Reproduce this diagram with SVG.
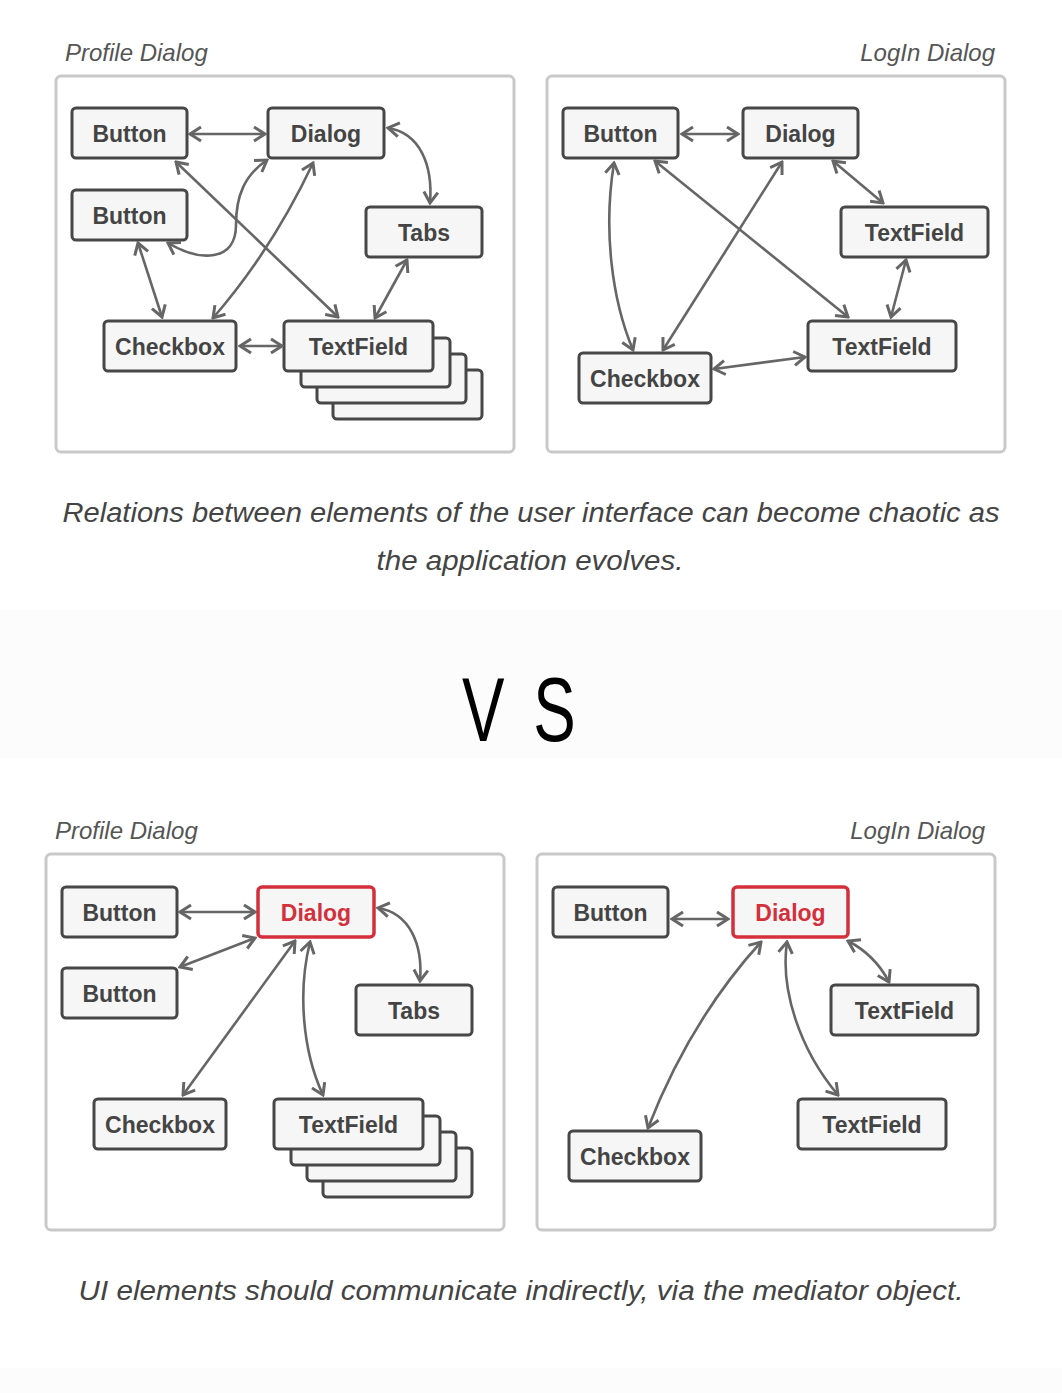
<svg xmlns="http://www.w3.org/2000/svg" width="1062" height="1393" viewBox="0 0 1062 1393">
<style>
.panel{fill:#fff;stroke:#c9c9c9;stroke-width:3}
.box{fill:#f6f6f6;stroke:#474747;stroke-width:3}
.med{fill:#f6f6f6;stroke:#d3303c;stroke-width:3.5}
.lbl{font-family:"Liberation Sans",Arial,sans-serif;font-weight:bold;font-size:23px;fill:#444;text-anchor:middle}
.medl{fill:#d3303c}
.title{font-family:"Liberation Sans",Arial,sans-serif;font-style:italic;font-size:24px;fill:#555}
.cap{font-family:"Liberation Sans",Arial,sans-serif;font-style:italic;font-size:27px;fill:#444;text-anchor:middle}
.con path{fill:none;stroke:#666;stroke-width:2.6;marker-start:url(#ah);marker-end:url(#ah)}
</style>
<defs>
<marker id="ah" viewBox="-14 -9 16 18" refX="0" refY="0" markerWidth="16" markerHeight="18" markerUnits="userSpaceOnUse" orient="auto-start-reverse">
<path d="M-11,-7 L0,0 L-11,7" fill="none" stroke="#666" stroke-width="3" stroke-linejoin="miter"/>
</marker>
</defs>
<rect x="0" y="0" width="1062" height="1393" fill="#fff"/>
<rect x="0" y="610" width="1062" height="148" fill="#fcfcfc"/>
<rect x="0" y="1368" width="1062" height="25" fill="#fcfcfc"/>

<!-- Top panels -->
<g id="panel-profile-top">
<text class="title" x="65" y="61">Profile Dialog</text>
<rect class="panel" x="56" y="76" width="458" height="376" rx="5"/>
</g>
<g id="panel-login-top">
<text class="title" x="995" y="61" text-anchor="end">LogIn Dialog</text>
<rect class="panel" x="547" y="76" width="458" height="376" rx="5"/>
</g>

<g id="tl-button1"><rect class="box" x="72" y="108" width="115" height="50" rx="4"/><text class="lbl" x="129.5" y="142">Button</text></g>
<g id="tl-dialog"><rect class="box" x="268" y="108" width="116" height="50" rx="4"/><text class="lbl" x="326" y="142">Dialog</text></g>
<g id="tl-button2"><rect class="box" x="72" y="190" width="115" height="50" rx="4"/><text class="lbl" x="129.5" y="224">Button</text></g>
<g id="tl-tabs"><rect class="box" x="366" y="207" width="116" height="50" rx="4"/><text class="lbl" x="424" y="241">Tabs</text></g>
<g id="tl-checkbox"><rect class="box" x="104" y="321" width="132" height="50" rx="4"/><text class="lbl" x="170" y="355">Checkbox</text></g>
<g id="tl-textfield">
<rect class="box" x="333" y="370" width="149" height="49" rx="4"/>
<rect class="box" x="317" y="354" width="149" height="49" rx="4"/>
<rect class="box" x="301" y="338" width="149" height="49" rx="4"/>
<rect class="box" x="284" y="321" width="149" height="50" rx="4"/><text class="lbl" x="358.5" y="355">TextField</text>
</g>

<g id="tr-button"><rect class="box" x="563" y="108" width="115" height="50" rx="4"/><text class="lbl" x="620.5" y="142">Button</text></g>
<g id="tr-dialog"><rect class="box" x="743" y="108" width="115" height="50" rx="4"/><text class="lbl" x="800.5" y="142">Dialog</text></g>
<g id="tr-textfield1"><rect class="box" x="841" y="207" width="147" height="50" rx="4"/><text class="lbl" x="914.5" y="241">TextField</text></g>
<g id="tr-textfield2"><rect class="box" x="808" y="321" width="148" height="50" rx="4"/><text class="lbl" x="882" y="355">TextField</text></g>
<g id="tr-checkbox"><rect class="box" x="579" y="353" width="132" height="50" rx="4"/><text class="lbl" x="645" y="387">Checkbox</text></g>

<text class="cap" x="531" y="522" textLength="937" lengthAdjust="spacingAndGlyphs">Relations between elements of the user interface can become chaotic as</text>
<text class="cap" x="530" y="570" textLength="307" lengthAdjust="spacingAndGlyphs">the application evolves.</text>

<text x="462" y="741" transform="translate(462,741) scale(0.7,1) translate(-462,-741)" font-family="Liberation Sans, Arial, sans-serif" font-size="91" letter-spacing="41" fill="#000">VS</text>

<!-- Bottom panels -->
<g id="panel-profile-bottom">
<text class="title" x="55" y="839">Profile Dialog</text>
<rect class="panel" x="46" y="854" width="458" height="376" rx="5"/>
</g>
<g id="panel-login-bottom">
<text class="title" x="985" y="839" text-anchor="end">LogIn Dialog</text>
<rect class="panel" x="537" y="854" width="458" height="376" rx="5"/>
</g>

<g id="bl-button1"><rect class="box" x="62" y="887" width="115" height="50" rx="4"/><text class="lbl" x="119.5" y="921">Button</text></g>
<g id="bl-dialog"><rect class="med" x="258" y="887" width="116" height="50" rx="4"/><text class="lbl medl" x="316" y="921">Dialog</text></g>
<g id="bl-button2"><rect class="box" x="62" y="968" width="115" height="50" rx="4"/><text class="lbl" x="119.5" y="1002">Button</text></g>
<g id="bl-tabs"><rect class="box" x="356" y="985" width="116" height="50" rx="4"/><text class="lbl" x="414" y="1019">Tabs</text></g>
<g id="bl-checkbox"><rect class="box" x="94" y="1099" width="132" height="50" rx="4"/><text class="lbl" x="160" y="1133">Checkbox</text></g>
<g id="bl-textfield">
<rect class="box" x="323" y="1148" width="149" height="49" rx="4"/>
<rect class="box" x="307" y="1132" width="149" height="49" rx="4"/>
<rect class="box" x="291" y="1116" width="149" height="49" rx="4"/>
<rect class="box" x="274" y="1099" width="149" height="50" rx="4"/><text class="lbl" x="348.5" y="1133">TextField</text>
</g>

<g id="br-button"><rect class="box" x="553" y="887" width="115" height="50" rx="4"/><text class="lbl" x="610.5" y="921">Button</text></g>
<g id="br-dialog"><rect class="med" x="733" y="887" width="115" height="50" rx="4"/><text class="lbl medl" x="790.5" y="921">Dialog</text></g>
<g id="br-textfield1"><rect class="box" x="831" y="985" width="147" height="50" rx="4"/><text class="lbl" x="904.5" y="1019">TextField</text></g>
<g id="br-textfield2"><rect class="box" x="798" y="1099" width="148" height="50" rx="4"/><text class="lbl" x="872" y="1133">TextField</text></g>
<g id="br-checkbox"><rect class="box" x="569" y="1131" width="132" height="50" rx="4"/><text class="lbl" x="635" y="1165">Checkbox</text></g>

<text class="cap" x="521" y="1300" textLength="885" lengthAdjust="spacingAndGlyphs">UI elements should communicate indirectly, via the mediator object.</text>

<g id="connectors" class="con">
<path d="M190 134 L265 134"/>
<path d="M388 128 C420 133 433 165 430 203"/>
<path d="M176 162 L338 317"/>
<path d="M168 243 C200 262 236 262 236 225 C236 195 245 175 267 160"/>
<path d="M313 163 Q272 250 213 318"/>
<path d="M138 243 L162 317"/>
<path d="M240 346 L282 346"/>
<path d="M407 260 L375 318"/>

<path d="M682 134 L738 134"/>
<path d="M614 163 C603 230 612 300 633 350"/>
<path d="M655 161 L848 317"/>
<path d="M782 162 L663 350"/>
<path d="M833 161 L883 203"/>
<path d="M906 260 L891 317"/>
<path d="M714 369 L805 357"/>

<path d="M180 912 L255 912"/>
<path d="M180 967 L255 938"/>
<path d="M295 941 L183 1095"/>
<path d="M310 942 C298 990 302 1050 323 1095"/>
<path d="M378 908 C410 913 423 945 420 981"/>

<path d="M672 919 L728 919"/>
<path d="M848 941 Q875 955 889 982"/>
<path d="M761 942 Q690 1020 648 1128"/>
<path d="M787 942 C780 990 800 1050 838 1095"/>
</g>
</svg>
